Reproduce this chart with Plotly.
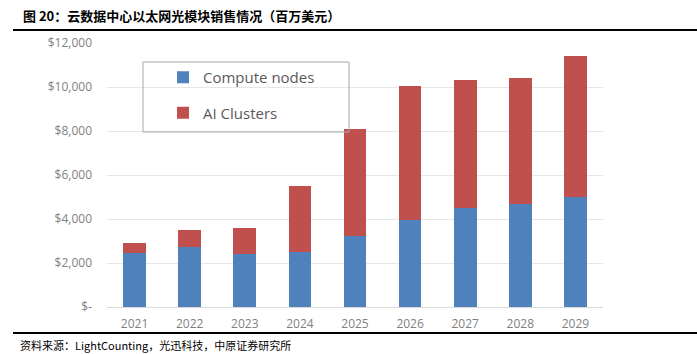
import plotly.graph_objects as go

years = ["2021", "2022", "2023", "2024", "2025", "2026", "2027", "2028", "2029"]
compute_nodes = [2450, 2750, 2400, 2500, 3250, 3950, 4500, 4700, 5000]
ai_clusters = [450, 750, 1200, 3000, 4850, 6100, 5800, 5700, 6430]
ytick_vals = [0, 2000, 4000, 6000, 8000, 10000, 12000]
ytick_text = ["$-", "$2,000", "$4,000", "$6,000", "$8,000", "$10,000", "$12,000"]

W, H = 697, 354
L, R, T, B = 107, 94, 43, 47
pw, ph = W - L - R, H - T - B

def px(x):
    return (x - L) / pw

def py(y):
    return (H - B - y) / ph

fig = go.Figure()
fig.add_trace(go.Bar(x=years, y=compute_nodes, name="Compute nodes",
                     marker=dict(color="#4F81BD", line=dict(width=0)),
                     legendgroup="a"))
fig.add_trace(go.Bar(x=years, y=ai_clusters, name="AI Clusters",
                     marker=dict(color="#C0504D", line=dict(width=0)),
                     legendgroup="b"))

fig.update_layout(
    width=W, height=H,
    margin=dict(l=L, r=R, t=T, b=B),
    barmode="stack", bargap=0.59,
    plot_bgcolor="white", paper_bgcolor="white",
    font=dict(family="Open Sans, Noto Sans CJK SC", color="#7f7f7f"),
    showlegend=True,
    legend=dict(x=px(163), y=py(61), xanchor="left", yanchor="top",
                traceorder="grouped", tracegroupgap=13,
                font=dict(size=15, color="#595959", family="Open Sans"),
                bgcolor="rgba(0,0,0,0)", borderwidth=0,
                itemwidth=30),
    xaxis=dict(showgrid=False, showline=False, ticks="",
               ticklabelstandoff=8,
               tickfont=dict(size=12, color="#7f7f7f")),
    yaxis=dict(range=[0, 12000], tickvals=ytick_vals, ticktext=ytick_text,
               showgrid=True, gridcolor="#e6e6e6", gridwidth=1,
               zeroline=True, zerolinecolor="#d9d9d9", zerolinewidth=1,
               showline=False, ticks="", ticklabelstandoff=14,
               tickfont=dict(size=12, color="#7f7f7f")),
    shapes=[
        dict(type="rect", xref="paper", yref="paper",
             x0=px(143), x1=px(349), y0=py(132), y1=py(62),
             line=dict(color="#a6a6a6", width=1), fillcolor="rgba(0,0,0,0)"),
        dict(type="line", xref="paper", yref="paper",
             x0=px(13), x1=px(697), y0=py(30), y1=py(30),
             line=dict(color="black", width=2)),
        dict(type="line", xref="paper", yref="paper",
             x0=px(13), x1=px(697), y0=py(333), y1=py(333),
             line=dict(color="black", width=2)),
    ],
    annotations=[
        dict(text="<b>图 20：云数据中心以太网光模块销售情况（百万美元）</b>",
             xref="paper", yref="paper", x=px(21), y=py(15),
             xanchor="left", yanchor="middle", showarrow=False,
             font=dict(size=13, color="black", family="Noto Sans CJK SC")),
        dict(text="资料来源：LightCounting，光迅科技，中原证券研究所",
             xref="paper", yref="paper", x=px(18), y=py(345),
             xanchor="left", yanchor="middle", showarrow=False,
             font=dict(size=11, color="black", family="Noto Sans CJK SC")),
    ],
)

fig.write_html("out.html")
